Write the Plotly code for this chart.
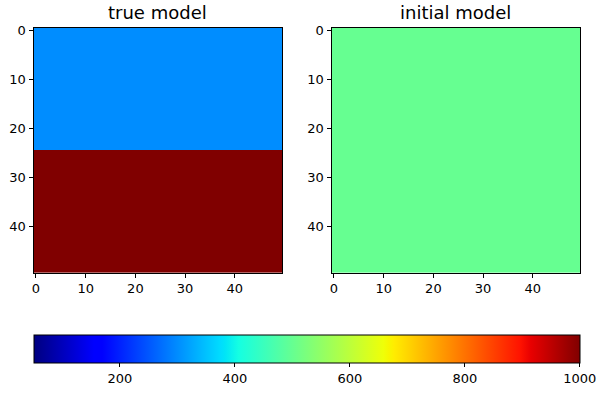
import numpy as np
import plotly.graph_objects as go

# ---- data ----
n_rows = 50
n_cols = 50
true_top_value = 300      # upper layer of true model (rows 0-24)
true_bottom_value = 1000  # lower layer of true model (rows 25-49)
layer_boundary_row = 25
initial_value = 500       # homogeneous initial model
z_min = 50
z_max = 1000
axis_ticks = [0, 10, 20, 30, 40]
colorbar_ticks = [200, 400, 600, 800, 1000]
titles = ["true model", "initial model"]

true_model = [[true_top_value if r < layer_boundary_row else true_bottom_value
               for c in range(n_cols)] for r in range(n_rows)]
initial_model = [[initial_value for c in range(n_cols)] for r in range(n_rows)]

# ---- matplotlib "jet" colormap ----
red = [(0, 0), (0.35, 0), (0.66, 1), (0.89, 1), (1, 0.5)]
green = [(0, 0), (0.125, 0), (0.375, 1), (0.64, 1), (0.91, 0), (1, 0)]
blue = [(0, 0.5), (0.11, 1), (0.34, 1), (0.65, 0), (1, 0)]
stops = sorted(set([p for p, _ in red] + [p for p, _ in green] + [p for p, _ in blue]))
def interp(seg, x):
    xs = [p for p, _ in seg]; ys = [v for _, v in seg]
    return float(np.interp(x, xs, ys))
jet = [[s, "rgb(%d,%d,%d)" % (round(255 * interp(red, s)), round(255 * interp(green, s)),
                               round(255 * interp(blue, s)))] for s in stops]

W, H = 600, 396
ML, MR, MT, MB = 20, 20, 10, 10
def px_x(x): return (x - ML) / (W - ML - MR)
def px_y(y): return 1 - (y - MT) / (H - MT - MB)

fig = go.Figure()
fig.add_trace(go.Heatmap(z=true_model, coloraxis="coloraxis", xaxis="x", yaxis="y"))
fig.add_trace(go.Heatmap(z=initial_model, coloraxis="coloraxis", xaxis="x2", yaxis="y2"))

font = "DejaVu Sans, Liberation Sans, sans-serif"
axis_common = dict(
    tickvals=axis_ticks, ticks="outside", ticklen=4, tickwidth=1, tickcolor="black",
    showline=True, mirror=True, linecolor="black", linewidth=1, automargin=False,
    showgrid=False, zeroline=False, tickfont=dict(size=13, color="black", family=font),
)
top, bottom = 28, 275.5
fig.update_layout(
    width=W, height=H,
    margin=dict(l=ML, r=MR, t=MT, b=MB),
    paper_bgcolor="white", plot_bgcolor="white",
    font=dict(family=font, color="black"),
    xaxis=dict(domain=[px_x(33.5), px_x(282)], range=[-0.5, 49.5], anchor="y", **axis_common),
    yaxis=dict(domain=[px_y(bottom), px_y(top)], range=[49.5, -0.5], anchor="x", **axis_common),
    xaxis2=dict(domain=[px_x(331.5), px_x(580)], range=[-0.5, 49.5], anchor="y2", **axis_common),
    yaxis2=dict(domain=[px_y(bottom), px_y(top)], range=[49.5, -0.5], anchor="x2", **axis_common),
    coloraxis=dict(
        cmin=z_min, cmax=z_max, colorscale=jet,
        colorbar=dict(
            orientation="h", lenmode="pixels", len=545.5, thickness=28,
            thicknessmode="pixels",
            x=px_x((34 + 579.5) / 2), xanchor="center",
            y=px_y(338), yanchor="top", xpad=0, ypad=0,
            outlinewidth=1, outlinecolor="black",
            tickvals=colorbar_ticks, ticks="outside", ticklen=4, tickcolor="black",
            tickfont=dict(size=13, color="black", family=font),
        ),
    ),
    showlegend=False,
)
for i, t in enumerate(titles):
    cx = (33.5 + 282) / 2 if i == 0 else (331.5 + 580) / 2
    fig.add_annotation(text=t, x=px_x(cx), y=px_y(13), xref="paper", yref="paper",
                       xanchor="center", yanchor="middle", showarrow=False,
                       font=dict(size=18, color="black", family=font))

fig.write_html("out.html", config={"displayModeBar": False},
               post_script="document.body.style.margin='0';")
